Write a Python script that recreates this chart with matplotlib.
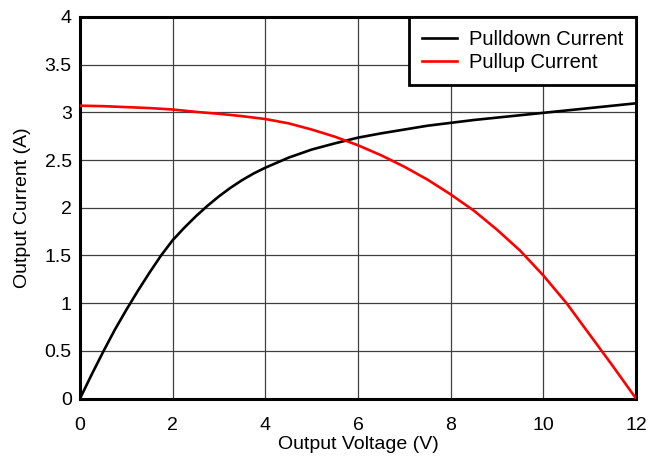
import matplotlib
matplotlib.use("Agg")
import matplotlib.pyplot as plt

plt.rcParams['font.family'] = ['Liberation Sans', 'DejaVu Sans']

# Pulldown current (black)
pd_v = [0, 0.25, 0.5, 0.75, 1, 1.25, 1.5, 1.75, 2, 2.25, 2.5, 2.75, 3, 3.25, 3.5, 3.75,
        4, 4.5, 5, 5.5, 6, 6.5, 7, 7.5, 8, 8.5, 9, 9.5, 10, 10.5, 11, 11.5, 12]
pd_i = [0, 0.25, 0.49, 0.72, 0.93, 1.13, 1.32, 1.5, 1.66, 1.79, 1.91, 2.02, 2.12, 2.21,
        2.29, 2.36, 2.42, 2.525, 2.61, 2.675, 2.735, 2.78, 2.82, 2.86, 2.89, 2.92,
        2.945, 2.97, 2.995, 3.02, 3.045, 3.07, 3.095]

# Pullup current (red)
pu_v = [0, 0.5, 1, 1.5, 2, 2.5, 3, 3.5, 4, 4.5, 5, 5.5, 6, 6.5, 7, 7.5, 8, 8.5,
        9, 9.5, 10, 10.5, 11, 11.5, 12]
pu_i = [3.07, 3.065, 3.055, 3.045, 3.03, 3.005, 2.985, 2.96, 2.93, 2.885, 2.82, 2.745,
        2.655, 2.55, 2.43, 2.295, 2.14, 1.97, 1.77, 1.55, 1.29, 1.0, 0.67, 0.34, 0]

x_ticks = [0, 2, 4, 6, 8, 10, 12]
y_ticks = [0, 0.5, 1, 1.5, 2, 2.5, 3, 3.5, 4]
y_labels = ['0', '0.5', '1', '1.5', '2', '2.5', '3', '3.5', '4']

fig = plt.figure(figsize=(6.49, 4.59), dpi=100)
ax = fig.add_axes([0.1233, 0.1318, 0.8567, 0.8312])

ax.plot(pd_v, pd_i, color='black', lw=1.9, label='Pulldown Current', zorder=3)
ax.plot(pu_v, pu_i, color='#ff0000', lw=1.9, label='Pullup Current', zorder=3)

ax.set_xlim(0, 12)
ax.set_ylim(0, 4)
ax.set_xticks(x_ticks)
ax.set_yticks(y_ticks)
ax.set_yticklabels(y_labels)
ax.tick_params(length=0, labelsize=14)
ax.tick_params(axis='x', pad=13)
ax.tick_params(axis='y', pad=6)
ax.grid(True, color='#404040', lw=0.9)
for s in ax.spines.values():
    s.set_linewidth(2.2)
    s.set_color('black')

ax.set_xlabel('Output Voltage (V)', fontsize=14, labelpad=2)
ax.set_ylabel('Output Current (A)', fontsize=14, labelpad=10)

leg = ax.legend(loc='upper right', borderaxespad=0, fancybox=False, framealpha=1,
                edgecolor='black', fontsize=14.5, handlelength=1.75, borderpad=0.65,
                labelspacing=0.2, handletextpad=0.55)
leg.get_frame().set_linewidth(2.0)

fig.savefig('out.png', dpi=100)
